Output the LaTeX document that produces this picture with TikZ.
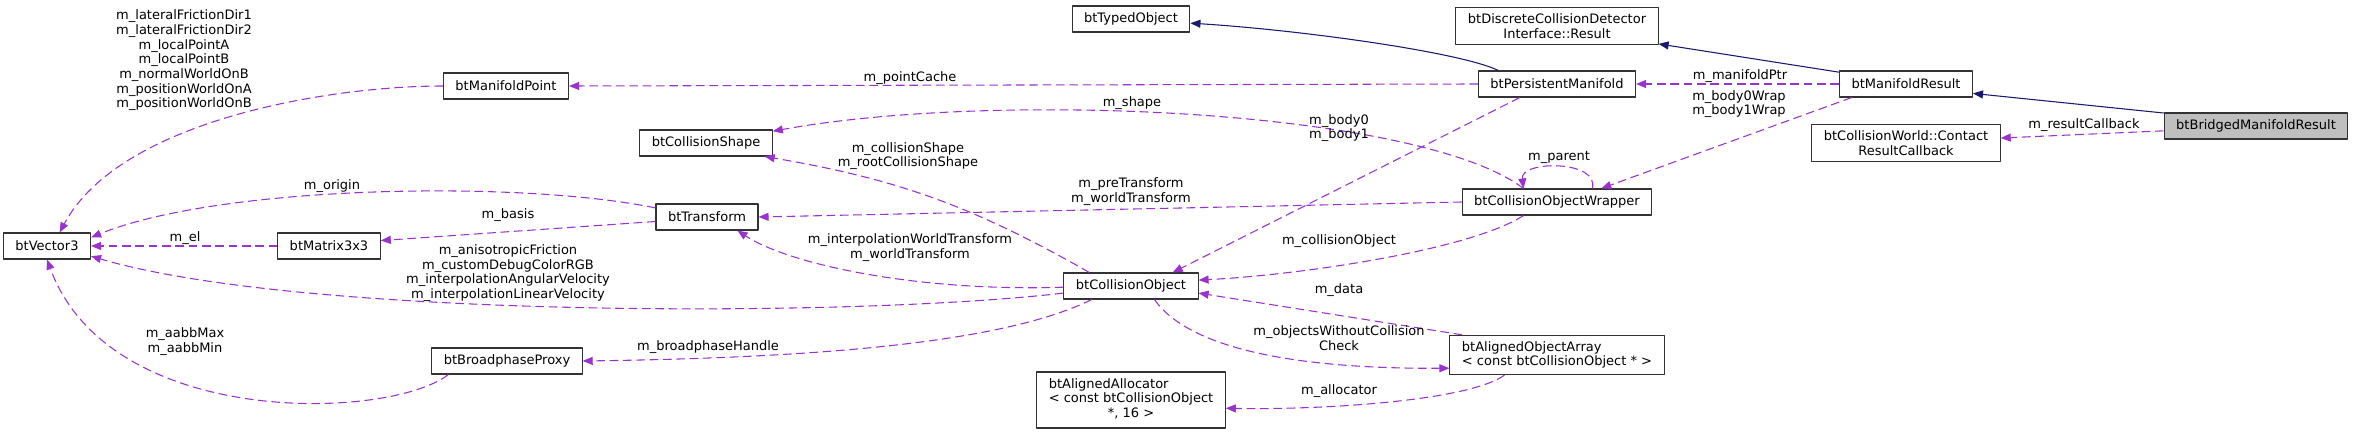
\documentclass[tikz,border=0pt]{standalone}
\usepackage{fontspec}
\setmainfont{DejaVu Sans}
\usetikzlibrary{arrows.meta}
\definecolor{edgepurple}{HTML}{9A32CD}
\definecolor{edgenavy}{HTML}{191970}
\definecolor{fillgray}{HTML}{BFBFBF}
\tikzset{
	box/.style={draw=black!80, line width=0.8pt, fill=white, minimum height=19.5pt, inner xsep=9pt, inner ysep=4.5pt},
	lbl/.style={inner sep=0pt, align=center},
	usedby/.style={edgepurple, line width=0.8pt, dash pattern=on 6.5pt off 3.5pt, -{Triangle[length=7.5pt,width=6pt]}},
	inherit/.style={edgenavy, line width=0.8pt, -{Triangle[length=7.5pt,width=6pt]}}
}
\begin{document}
\begin{tikzpicture}[x=0.75pt, y=-0.75pt, font=\fontsize{9.75pt}{11pt}\selectfont, line join=round]
	\useasboundingbox (0,0) rectangle (2353,434);
	\foreach \n/\x/\y/\t in {v3/47/246/btVector3, mx/329/246/btMatrix3x3, mp/506/86/btManifoldPoint, bp/507/361/btBroadphaseProxy, cs/706/143/btCollisionShape, tr/707/217/btTransform, to/1131/19/btTypedObject, co/1131/286/btCollisionObject, pm/1557/84/btPersistentManifold, cw/1557/202/btCollisionObjectWrapper, mr/1906/84/btManifoldResult}
		\node[box] (\n) at (\x,\y) {\t};
	\node[box, align=center] (res) at (1557,26) {btDiscreteCollisionDetector\\Interface::Result};
	\node[box, align=center] (cb) at (1906,143) {btCollisionWorld::Contact\\ResultCallback};
	\node[box, align=left] (oa) at (1557,355) {btAlignedObjectArray\\< const btCollisionObject * >};
	\node[box] (aa) at (1131,400) {\begin{tabular}{@{}l@{}}btAlignedAllocator\\< const btCollisionObject\\\multicolumn{1}{@{}c@{}}{*, 16 >}\end{tabular}};
	\node[box, fill=fillgray] (bm) at (2256,126) {btBridgedManifoldResult};
	\draw[usedby] (mp.west) .. controls (330,86) and (120,120) .. (v3.47);
	\draw[usedby] (tr.170) .. controls (520,180) and (220,185) .. (v3.11);
	\draw[usedby] (mx.west) -- (v3.east);
	\draw[usedby] (co.186) .. controls (850,318) and (300,318) .. (v3.-13);
	\draw[usedby] (bp.193) .. controls (390,420) and (110,430) .. (v3.south);
	\draw[usedby] (tr.185) -- (mx.6);
	\draw[usedby] (pm.west) -- (mp.east);
	\draw[usedby] (cw.158) .. controls (1420,110) and (1000,90) .. (cs.10);
	\draw[usedby] (cw.21) .. controls (1600,160) and (1520,160) .. (cw.158);
	\draw[usedby] (pm.200) -- (co.18);
	\draw[usedby] (mr.194) -- (cw.17);
	\draw[usedby] (co.162) to[bend right=10] (cs.-13);
	\draw[usedby] (cw.west) -- (tr.east);
	\draw[usedby] (co.181) .. controls (920,292) and (790,265) .. (tr.-24);
	\draw[usedby] (co.199) .. controls (1000,345) and (800,358) .. (bp.east);
	\draw[usedby] (cw.202) .. controls (1470,250) and (1300,275) .. (co.5);
	\draw[usedby] (oa.168) -- (co.-6);
	\draw[usedby] (co.-30) .. controls (1190,350) and (1300,369) .. (oa.187);
	\draw[usedby] (oa.201) .. controls (1470,400) and (1330,410) .. (aa.-5);
	\draw[inherit] (pm.167) .. controls (1460,52) and (1300,30) .. (to.-4);
	\draw[inherit] (mr.170) -- (res.-10);
	\draw[usedby] (mr.west) -- (pm.east);
	\draw[inherit] (bm.172) -- (mr.-8);
	\draw[usedby] (bm.183) -- (cb.3);
	\node[lbl] (l-mp) at (184,60.5) {m\_lateralFrictionDir1\\m\_lateralFrictionDir2\\m\_localPointA\\m\_localPointB\\m\_normalWorldOnB\\m\_positionWorldOnA\\m\_positionWorldOnB};
	\node[lbl] (l-origin) at (332,186) {m\_origin};
	\node[lbl] (l-el) at (185,238) {m\_el};
	\node[lbl] (l-basis) at (508,215) {m\_basis};
	\node[lbl] (l-co) at (508,273) {m\_anisotropicFriction\\m\_customDebugColorRGB\\m\_interpolationAngularVelocity\\m\_interpolationLinearVelocity};
	\node[lbl] (l-aabb) at (185,341.5) {m\_aabbMax\\m\_aabbMin};
	\node[lbl] (l-bp) at (708,347) {m\_broadphaseHandle};
	\node[lbl] (l-pc) at (910,78) {m\_pointCache};
	\node[lbl] (l-shape) at (1132,103) {m\_shape};
	\node[lbl] (l-body) at (1339,128) {m\_body0\\m\_body1};
	\node[lbl] (l-cs) at (908,156) {m\_collisionShape\\m\_rootCollisionShape};
	\node[lbl] (l-pt) at (1131,191.5) {m\_preTransform\\m\_worldTransform};
	\node[lbl] (l-iwt) at (910,247.5) {m\_interpolationWorldTransform\\m\_worldTransform};
	\node[lbl] (l-cobj) at (1339,241) {m\_collisionObject};
	\node[lbl] (l-data) at (1339,290) {m\_data};
	\node[lbl] (l-owcc) at (1339,338) {m\_objectsWithoutCollision\\Check};
	\node[lbl] (l-alloc) at (1339,391) {m\_allocator};
	\node[lbl] (l-mptr) at (1740,76) {m\_manifoldPtr};
	\node[lbl] (l-wrap) at (1739,104) {m\_body0Wrap\\m\_body1Wrap};
	\node[lbl] (l-rcb) at (2084,125) {m\_resultCallback};
	\node[lbl] (l-parent) at (1559,157) {m\_parent};
\end{tikzpicture}
\end{document}
